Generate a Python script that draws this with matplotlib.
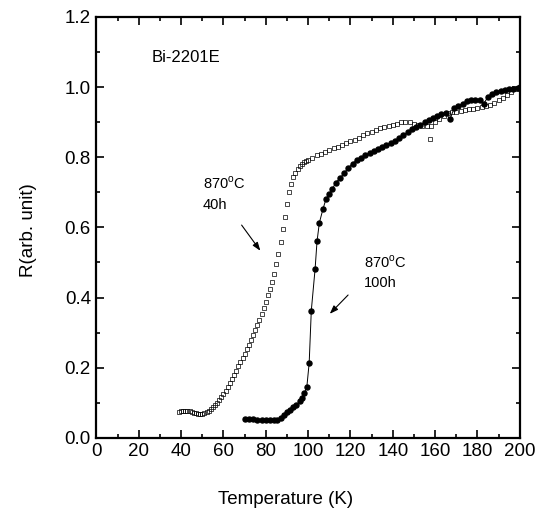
import matplotlib
matplotlib.use("Agg")
import matplotlib.pyplot as plt
from matplotlib.ticker import MultipleLocator

plt.rcParams['font.family'] = ['Liberation Sans', 'DejaVu Sans']

# 870 C, 40 h sample (open markers)
t_40h = [39, 40, 41, 42, 43, 44, 45, 46, 47, 48, 49, 50, 51, 52, 53, 54, 55, 56, 57, 58,
         59, 60, 61, 62, 63, 64, 65, 66, 67, 68, 69, 70, 71, 72, 73, 74, 75, 76, 77, 78,
         79, 80, 81, 82, 83, 84, 85, 86, 87, 88, 89, 90, 91, 92, 93, 94, 95, 96, 97, 98,
         99, 100, 102, 104, 106, 108, 110, 112, 114, 116, 118, 120, 122, 124, 126, 128,
         130, 132, 134, 136, 138, 140, 142, 144, 146, 148, 150, 152, 154, 156, 157.5, 158,
         160, 162, 164, 166, 168, 170, 172, 174, 176, 178, 180, 182, 184, 186, 188, 190,
         192, 194, 196, 198, 200]
r_40h = [0.074, 0.076, 0.078, 0.078, 0.078, 0.077, 0.075, 0.072, 0.070, 0.068, 0.067,
         0.068, 0.070, 0.074, 0.078, 0.082, 0.087, 0.093, 0.100, 0.108, 0.116, 0.125,
         0.135, 0.145, 0.156, 0.168, 0.180, 0.192, 0.204, 0.216, 0.228, 0.240, 0.253,
         0.266, 0.280, 0.294, 0.308, 0.322, 0.337, 0.353, 0.370, 0.388, 0.407, 0.425,
         0.445, 0.468, 0.495, 0.525, 0.558, 0.595, 0.630, 0.668, 0.700, 0.725, 0.743,
         0.756, 0.766, 0.774, 0.780, 0.785, 0.789, 0.793, 0.799, 0.805, 0.810, 0.815,
         0.820, 0.825, 0.830, 0.835, 0.840, 0.845, 0.850, 0.856, 0.862, 0.868, 0.873,
         0.878, 0.883, 0.887, 0.890, 0.893, 0.896, 0.899, 0.901, 0.899, 0.895, 0.892,
         0.890, 0.889, 0.852, 0.890, 0.900, 0.910, 0.918, 0.925, 0.928, 0.930, 0.932,
         0.934, 0.936, 0.938, 0.940, 0.943, 0.946, 0.950, 0.955, 0.962, 0.970, 0.978,
         0.986, 0.993, 0.998]

# 870 C, 100 h sample (filled circles)
t_100h = [70, 72, 74, 76, 78, 80, 82, 84, 85.5, 87, 88.5, 90, 91.5, 93, 94.5, 96, 97,
          98.2, 99.4, 100.5, 101.5, 103.3, 104.2, 105.3, 107, 108.5, 110, 111.5, 113,
          115, 117, 119, 121, 123, 125, 127, 129, 131, 133, 135, 137, 139, 141, 143,
          145, 147, 149, 151, 153, 155, 157, 159, 161, 163, 165, 167, 169, 171, 173,
          175, 177, 179, 181, 183, 185, 187, 189, 191, 193, 195, 197, 199, 200]
r_100h = [0.054, 0.053, 0.053, 0.052, 0.052, 0.051, 0.051, 0.050, 0.050, 0.058, 0.066,
          0.073, 0.080, 0.087, 0.094, 0.104, 0.113, 0.127, 0.146, 0.214, 0.363, 0.482,
          0.560, 0.613, 0.652, 0.682, 0.694, 0.710, 0.727, 0.740, 0.755, 0.770, 0.782,
          0.792, 0.799, 0.805, 0.811, 0.817, 0.822, 0.828, 0.834, 0.840, 0.847, 0.855,
          0.863, 0.871, 0.879, 0.887, 0.893, 0.899, 0.905, 0.911, 0.917, 0.923, 0.927,
          0.908, 0.940, 0.946, 0.953, 0.960, 0.963, 0.963, 0.962, 0.953, 0.972, 0.980,
          0.987, 0.989, 0.991, 0.993, 0.995, 0.997, 1.000]

x_ticks = [0, 20, 40, 60, 80, 100, 120, 140, 160, 180, 200]
y_ticks = [0.0, 0.2, 0.4, 0.6, 0.8, 1.0, 1.2]

fig = plt.figure(figsize=(5.42, 5.11), dpi=100)
ax = fig.add_axes([0.178, 0.143, 0.781, 0.824])

ax.plot(t_40h, r_40h, linestyle='none', marker='s', ms=2.3, mfc='none', mec='black', mew=0.5)
ax.plot(t_100h, r_100h, color='black', lw=0.7, marker='o', ms=3.6, mfc='black', mec='black')

ax.set_xlim(0, 200)
ax.set_ylim(0, 1.2)
ax.set_xticks(x_ticks)
ax.set_yticks(y_ticks)
ax.set_yticklabels([f"{v:.1f}" for v in y_ticks])
ax.xaxis.set_minor_locator(MultipleLocator(10))
ax.yaxis.set_minor_locator(MultipleLocator(0.1))
ax.tick_params(which='both', direction='in', top=True, right=True, width=1.2, labelsize=13.5)
ax.tick_params(which='major', length=6, pad=4)
ax.tick_params(which='minor', length=3)
for s in ax.spines.values():
    s.set_linewidth(1.6)

ax.set_xlabel('Temperature (K)', fontsize=13.5)
ax.set_ylabel('R(arb. unit)', fontsize=13.5)
ax.xaxis.set_label_coords(0.447, -0.147)
ax.yaxis.set_label_coords(-0.161, 0.494)
ax.xaxis.label.set_va('center')
ax.yaxis.label.set_va('center')

ax.text(26.1, 1.085, 'Bi-2201E', fontsize=12, va='center', ha='left')
ax.text(50.3, 0.727, r'870$^{\mathregular{o}}$C', fontsize=10.5, va='center', ha='left')
ax.text(50.3, 0.664, '40h', fontsize=10.5, va='center', ha='left')
ax.text(126.4, 0.501, r'870$^{\mathregular{o}}$C', fontsize=10.5, va='center', ha='left')
ax.text(126.4, 0.442, '100h', fontsize=10.5, va='center', ha='left')

arrow = dict(arrowstyle='-|>,head_length=0.5,head_width=0.18', color='black', lw=0.8)
ax.annotate('', xy=(78.2, 0.527), xytext=(67.8, 0.613), arrowprops=arrow)
ax.annotate('', xy=(109.3, 0.348), xytext=(119.8, 0.413), arrowprops=arrow)

fig.savefig('out.png', dpi=100)
